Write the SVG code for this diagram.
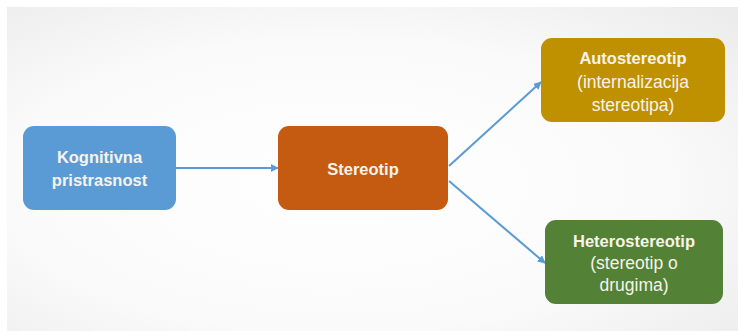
<svg xmlns="http://www.w3.org/2000/svg" width="738" height="331" viewBox="0 0 738 331">
<style>
.box{stroke:none}
.t{font-family:"Liberation Sans",Arial,sans-serif;fill:#f7f3ea;text-anchor:middle}
.b{font-weight:bold;font-size:16.5px}
.r{font-size:17.5px}
.c{stroke:#5b9bd5;stroke-width:2;fill:none;marker-end:url(#ah)}
</style>
<defs>
<radialGradient id="bg" cx="0.45" cy="0.55" r="0.75">
<stop offset="0" stop-color="#ffffff"/>
<stop offset="0.6" stop-color="#fafafa"/>
<stop offset="1" stop-color="#ececec"/>
</radialGradient>
<marker id="ah" viewBox="0 0 10 10" refX="9" refY="5" markerWidth="4" markerHeight="4" orient="auto">
<path d="M0,0 L10,5 L0,10 z" fill="#5b9bd5"/>
</marker>
</defs>
<rect x="0" y="0" width="738" height="331" fill="#ffffff"/>
<rect x="7" y="7" width="731" height="324" fill="url(#bg)"/>
<g id="connectors">
<line class="c" x1="176" y1="168" x2="278" y2="168"/>
<line class="c" x1="449" y1="166" x2="541" y2="82"/>
<line class="c" x1="449" y1="181" x2="545" y2="263"/>
</g>
<g id="n1">
<rect class="box" x="23" y="126" width="153" height="84" rx="11" fill="#5b9bd5"/>
<text class="t b" x="99.5" y="163">Kognitivna</text>
<text class="t b" x="99.5" y="186">pristrasnost</text>
</g>
<g id="n2">
<rect class="box" x="278" y="126" width="170" height="84" rx="11" fill="#c55a11"/>
<text class="t b" x="363" y="175">Stereotip</text>
</g>
<g id="n3">
<rect class="box" x="541" y="38" width="184" height="84" rx="11" fill="#bf9000"/>
<text class="t b" x="633" y="64">Autostereotip</text>
<text class="t r" x="633" y="88">(internalizacija</text>
<text class="t r" x="633" y="111">stereotipa)</text>
</g>
<g id="n4">
<rect class="box" x="545" y="220" width="178" height="84" rx="11" fill="#538135"/>
<text class="t b" x="634" y="247">Heterostereotip</text>
<text class="t r" x="634" y="269">(stereotip o</text>
<text class="t r" x="634" y="291">drugima)</text>
</g>
</svg>
